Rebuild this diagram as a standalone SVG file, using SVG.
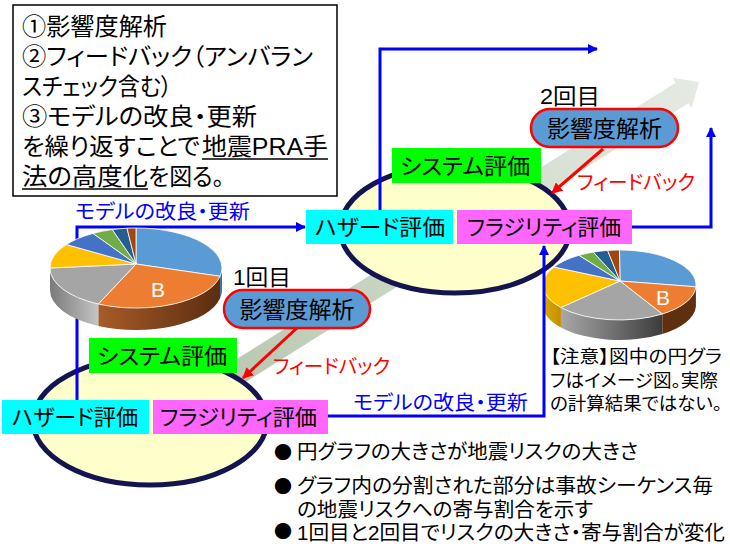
<svg xmlns="http://www.w3.org/2000/svg" width="730" height="544" viewBox="0 0 730 544">
<defs>
<style>
text{font-family:'Liberation Sans','Noto Sans CJK JP',sans-serif;font-feature-settings:"palt";fill:#000}
.t24{font-size:24px}
.bx{font-size:22px}
.pl{font-size:23px}
.red{fill:#ff0000;font-size:20px}
.blu{fill:#0000ff;font-size:20px}
.note{font-size:18px}
.bul{font-size:20px}
.dot{font-size:18px;font-family:'Noto Sans CJK JP',sans-serif}
.conn{fill:none;stroke:#0000ff;stroke-width:3}
.fb{fill:none;stroke:#ff0000;stroke-width:3}
.ell{fill:#ffffcc;stroke:#141450;stroke-width:5}
.sl{stroke:#ffffff;stroke-width:0.8}
.bl{fill:#ffffff;font-size:21px;font-family:'Liberation Sans',sans-serif}
.pill{fill:#5b9bd5;stroke:#ff0000;stroke-width:2.5}
</style>
<linearGradient id="bandg" gradientUnits="userSpaceOnUse" x1="150" y1="428" x2="699" y2="82">
<stop offset="0" stop-color="#b3c3aa"/><stop offset="0.5" stop-color="#ccd7c6"/><stop offset="1" stop-color="#e6eae4"/>
</linearGradient>
<linearGradient id="p1o" gradientUnits="userSpaceOnUse" x1="98" y1="0" x2="222" y2="0">
<stop offset="0" stop-color="#a85c28"/><stop offset="1" stop-color="#5a2c10"/>
</linearGradient>
<linearGradient id="p1g" gradientUnits="userSpaceOnUse" x1="50" y1="0" x2="98" y2="0">
<stop offset="0" stop-color="#7a7a7a"/><stop offset="1" stop-color="#c4c4c4"/>
</linearGradient>
<linearGradient id="p2g" gradientUnits="userSpaceOnUse" x1="561" y1="0" x2="662" y2="0">
<stop offset="0" stop-color="#a8a8a8"/><stop offset="1" stop-color="#3c3c3c"/>
</linearGradient>
<linearGradient id="p2y" gradientUnits="userSpaceOnUse" x1="543" y1="0" x2="561" y2="0">
<stop offset="0" stop-color="#e0aa00"/><stop offset="1" stop-color="#c08f00"/>
</linearGradient>
<marker id="ab" viewBox="0 0 10 10" refX="9" refY="5" markerWidth="10" markerHeight="10" markerUnits="userSpaceOnUse" orient="auto"><path d="M0,0 L10,5 L0,10 z" fill="#0000ff"/></marker>
<marker id="ar" viewBox="0 0 10 10" refX="9" refY="5" markerWidth="11" markerHeight="11" markerUnits="userSpaceOnUse" orient="auto"><path d="M0,0 L10,5 L0,10 z" fill="#ff0000"/></marker>
</defs>

<g id="progress-arrow">
<polygon points="143.6,417.8 675.6,82.8 672.4,77.8 699,82 691.6,108.2 688.4,103.2 156.4,438.2" fill="url(#bandg)"/>
</g>

<g id="round1-ellipse"><ellipse class="ell" cx="150" cy="421" rx="117" ry="64"/></g>
<g id="round2-ellipse"><ellipse class="ell" cx="455" cy="229" rx="115" ry="64"/></g>

<g id="pie2">
<path d="M695.9,286.8 A76.5,35 0 0 1 662.3,314 L662.3,334 A76.5,35 0 0 0 695.9,306.8 Z" fill="#5e3010"/>
<path d="M662.3,314 A76.5,35 0 0 1 560.9,307.5 L560.9,327.5 A76.5,35 0 0 0 662.3,334 Z" fill="url(#p2g)"/>
<path d="M560.9,307.5 A76.5,35 0 0 1 543,285 L543,305 A76.5,35 0 0 0 560.9,327.5 Z" fill="url(#p2y)"/>
<path class="sl" d="M620,281 L619.5,250 A76.5,35 0 0 1 695.9,286.8 Z" fill="#5b9bd5"/>
<path class="sl" d="M620,281 L695.9,286.8 A76.5,35 0 0 1 662.3,314 Z" fill="#ed7d31"/>
<path class="sl" d="M620,281 L662.3,314 A76.5,35 0 0 1 560.9,307.5 Z" fill="#a5a5a5"/>
<path class="sl" d="M620,281 L560.9,307.5 A76.5,35 0 0 1 553.9,267 Z" fill="#ffc000"/>
<path class="sl" d="M620,281 L553.9,267 A76.5,35 0 0 1 579,255.3 Z" fill="#4472c4"/>
<path class="sl" d="M620,281 L579,255.3 A76.5,35 0 0 1 593.3,252.1 Z" fill="#70ad47"/>
<path class="sl" d="M620,281 L593.3,252.1 A76.5,35 0 0 1 607.6,250.4 Z" fill="#255e91"/>
<path class="sl" d="M620,281 L607.6,250.4 A76.5,35 0 0 1 619.5,250 Z" fill="#9e480e"/>
<text class="bl" x="663" y="305" text-anchor="middle">B</text>
</g>

<g id="connectors">
<path class="conn" d="M77,400 V227 H305" marker-end="url(#ab)"/>
<path class="conn" d="M380,210 V49 H597" marker-end="url(#ab)"/>
<path class="conn" d="M328,416 H544 V246" marker-end="url(#ab)"/>
<path class="conn" d="M632,227 H711 V128" marker-end="url(#ab)"/>
<path class="fb" d="M603,149 L552,193" marker-end="url(#ar)"/>
<path class="fb" d="M297,328 L243,378" marker-end="url(#ar)"/>
<text class="blu" x="75" y="219" textLength="175" lengthAdjust="spacingAndGlyphs">モデルの改良・更新</text>
<text class="blu" x="353" y="410" textLength="175" lengthAdjust="spacingAndGlyphs">モデルの改良・更新</text>
<text class="red" x="577" y="190" textLength="118" lengthAdjust="spacingAndGlyphs">フィードバック</text>
<text class="red" x="273" y="374" textLength="117" lengthAdjust="spacingAndGlyphs">フィードバック</text>
</g>

<g id="pie1">
<path d="M222,268 A86,40 0 0 1 220.1,276.3 L220.1,298.3 A86,40 0 0 0 222,290 Z" fill="#3a6fa0"/>
<path d="M220.1,276.3 A86,40 0 0 1 98.3,304 L98.3,326 A86,40 0 0 0 220.1,298.3 Z" fill="url(#p1o)"/>
<path d="M98.3,304 A86,40 0 0 1 50,268 L50,290 A86,40 0 0 0 98.3,326 Z" fill="url(#p1g)"/>
<path class="sl" d="M136,264 L136,228 A86,40 0 0 1 220.1,276.3 Z" fill="#5b9bd5"/>
<path class="sl" d="M136,264 L220.1,276.3 A86,40 0 0 1 98.3,304 Z" fill="#ed7d31"/>
<path class="sl" d="M136,264 L98.3,304 A86,40 0 0 1 50,268 Z" fill="#a5a5a5"/>
<path class="sl" d="M136,264 L50,268 A86,40 0 0 1 66.4,244.5 Z" fill="#ffc000"/>
<path class="sl" d="M136,264 L66.4,244.5 A86,40 0 0 1 93,233.4 Z" fill="#4472c4"/>
<path class="sl" d="M136,264 L93,233.4 A86,40 0 0 1 112.3,229.6 Z" fill="#70ad47"/>
<path class="sl" d="M136,264 L112.3,229.6 A86,40 0 0 1 127,228.2 Z" fill="#255e91"/>
<path class="sl" d="M136,264 L127,228.2 A86,40 0 0 1 136,228 Z" fill="#9e480e"/>
<text class="bl" x="158" y="297" text-anchor="middle">B</text>
</g>

<g id="summary-box">
<rect x="13" y="5" width="324" height="191" fill="#ffffff" stroke="#000000" stroke-width="1.5"/>
<text class="t24" x="22" y="35" textLength="145" lengthAdjust="spacingAndGlyphs">①影響度解析</text>
<text class="t24" x="22" y="65" textLength="291" lengthAdjust="spacingAndGlyphs">②フィードバック（アンバラン</text>
<text class="t24" x="22" y="95" textLength="150" lengthAdjust="spacingAndGlyphs">スチェック含む）</text>
<text class="t24" x="22" y="125" textLength="235" lengthAdjust="spacingAndGlyphs">③モデルの改良・更新</text>
<text class="t24" x="22" y="155" textLength="178" lengthAdjust="spacingAndGlyphs">を繰り返すことで</text>
<text class="t24" x="202" y="155" textLength="126" lengthAdjust="spacingAndGlyphs">地震PRA手</text>
<text class="t24" x="22" y="185" textLength="126" lengthAdjust="spacingAndGlyphs">法の高度化</text>
<text class="t24" x="148" y="185" textLength="76" lengthAdjust="spacingAndGlyphs">を図る。</text>
<line x1="202" y1="159" x2="328" y2="159" stroke="#000" stroke-width="1.5"/>
<line x1="22" y1="189" x2="148" y2="189" stroke="#000" stroke-width="1.5"/>
</g>

<g id="r1-system"><rect x="89" y="338" width="148" height="35" fill="#00ff00"/><text class="bx" x="97" y="364" textLength="130" lengthAdjust="spacingAndGlyphs">システム評価</text></g>
<g id="r1-hazard"><rect x="2" y="400" width="147" height="34" fill="#00ffff"/><text class="bx" x="12" y="425" textLength="126" lengthAdjust="spacingAndGlyphs">ハザード評価</text></g>
<g id="r1-fragility"><rect x="153" y="400" width="175" height="34" fill="#ff66ff"/><text class="bx" x="160" y="425" textLength="157" lengthAdjust="spacingAndGlyphs">フラジリティ評価</text></g>
<g id="r2-system"><rect x="392" y="148" width="149" height="35" fill="#00ff00"/><text class="bx" x="400" y="174" textLength="130" lengthAdjust="spacingAndGlyphs">システム評価</text></g>
<g id="r2-hazard"><rect x="306" y="210" width="147" height="34" fill="#00ffff"/><text class="bx" x="315" y="235" textLength="130" lengthAdjust="spacingAndGlyphs">ハザード評価</text></g>
<g id="r2-fragility"><rect x="457" y="210" width="175" height="34" fill="#ff66ff"/><text class="bx" x="467" y="235" textLength="154" lengthAdjust="spacingAndGlyphs">フラジリティ評価</text></g>

<g id="r1-impact"><rect class="pill" x="224" y="290" width="146" height="38" rx="19"/><text class="pl" x="297" y="318" text-anchor="middle" textLength="115" lengthAdjust="spacingAndGlyphs">影響度解析</text></g>
<g id="r2-impact"><rect class="pill" x="531" y="109" width="147" height="38" rx="19"/><text class="pl" x="604.5" y="137" text-anchor="middle" textLength="115" lengthAdjust="spacingAndGlyphs">影響度解析</text></g>

<g id="round-labels">
<text class="bx" x="233" y="285" textLength="58" lengthAdjust="spacingAndGlyphs">1回目</text>
<text class="bx" x="540" y="104" textLength="60" lengthAdjust="spacingAndGlyphs">2回目</text>
</g>

<g id="note">
<text class="note" x="550" y="363" textLength="172" lengthAdjust="spacingAndGlyphs">【注意】図中の円グラ</text>
<text class="note" x="550" y="387" textLength="168" lengthAdjust="spacingAndGlyphs">フはイメージ図。実際</text>
<text class="note" x="550" y="410" textLength="172" lengthAdjust="spacingAndGlyphs">の計算結果ではない。</text>
</g>

<g id="bullets">
<text class="dot" x="274" y="459">●</text>
<text class="bul" x="297" y="459" textLength="341" lengthAdjust="spacingAndGlyphs">円グラフの大きさが地震リスクの大きさ</text>
<text class="dot" x="274" y="493">●</text>
<text class="bul" x="297" y="493" textLength="416" lengthAdjust="spacingAndGlyphs">グラフ内の分割された部分は事故シーケンス毎</text>
<text class="bul" x="297" y="517" textLength="296" lengthAdjust="spacingAndGlyphs">の地震リスクへの寄与割合を示す</text>
<text class="dot" x="274" y="538">●</text>
<text class="bul" x="297" y="540" textLength="428" lengthAdjust="spacingAndGlyphs">1回目と2回目でリスクの大きさ・寄与割合が変化</text>
</g>
</svg>
